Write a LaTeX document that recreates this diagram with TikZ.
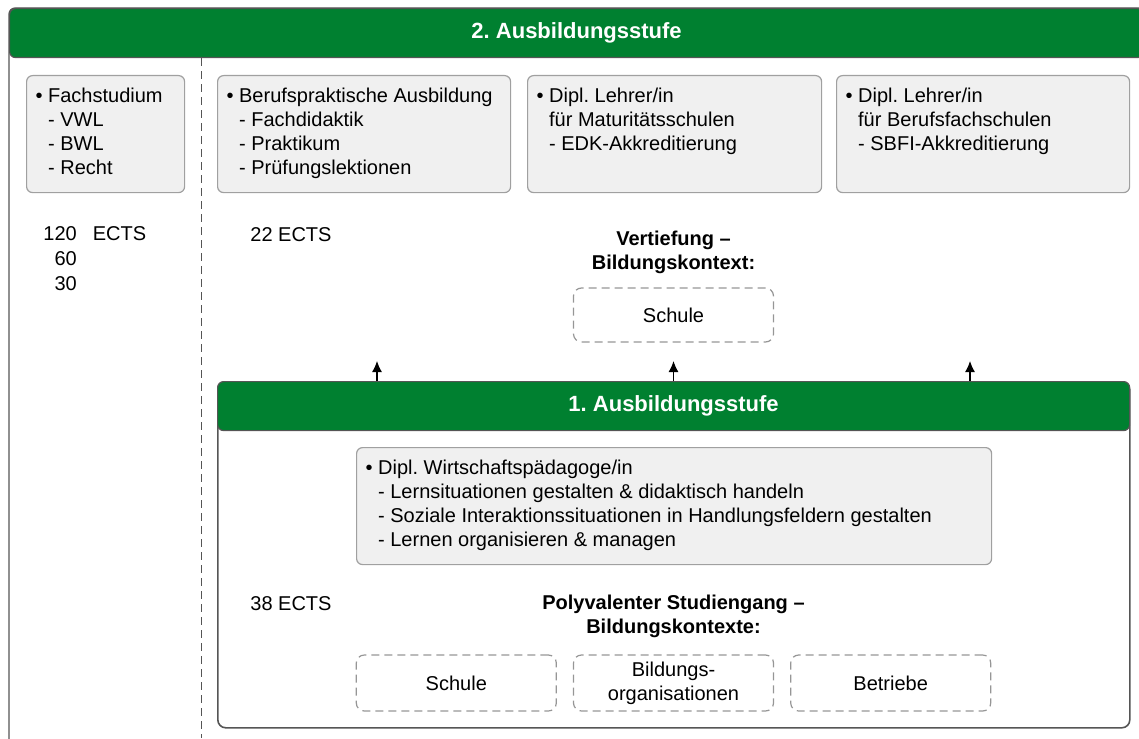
\documentclass[tikz,border=0pt]{standalone}
\usepackage{fontspec}
\setmainfont{Liberation Sans}
\usetikzlibrary{positioning,arrows.meta}
\frenchspacing

\definecolor{stufengruen}{RGB}{0,128,48}
\definecolor{boxgrau}{RGB}{240,240,240}
\definecolor{boxrand}{RGB}{160,160,160}
\definecolor{rahmengrau}{RGB}{85,85,85}
\definecolor{strichgrau}{RGB}{150,150,150}

\newcommand{\einr}{\phantom{\textbullet\ }}
\newcommand{\inhalt}[2]{\parbox[t][46.3pt][t]{#1}{#2}}

\begin{document}
\begin{tikzpicture}[x=0.5pt, y=-0.5pt,
  every node/.style={font=\fontsize{10}{12}\selectfont},
  kopf/.style={draw=rahmengrau, fill=stufengruen, text=white, font=\fontsize{11}{13}\selectfont\bfseries, rounded corners=3pt, anchor=north west, minimum height=24.5pt, inner sep=0pt, line width=0.6pt},
  graubox/.style={draw=boxrand, fill=boxgrau, rounded corners=3pt, anchor=north west, inner xsep=4.5pt, inner ysep=6.1pt, align=left, line width=0.6pt},
  kontext/.style={draw=strichgrau, dash pattern=on 4pt off 2.5pt, rounded corners=4pt, minimum width=100pt, align=center, inner sep=0pt, line width=0.6pt},
  titel/.style={font=\fontsize{10}{12}\selectfont\bfseries, align=center},
  pfeil/.style={-{Latex[length=5.5pt,width=5pt]}, line width=0.6pt}]

  \useasboundingbox (0,0) rectangle (1139,738);
  \clip (0,0) rectangle (1139,738);

  % 2. Ausbildungsstufe
  \draw[rahmengrau, line width=0.6pt, rounded corners=3pt] (9,8) rectangle (1160,760);
  \node[kopf, minimum width=567pt] (stufe2) at (9,8) {2. Ausbildungsstufe};
  \coordinate (trenn) at (201.5,738);
  \draw[rahmengrau, dash pattern=on 4pt off 2.5pt, line width=0.6pt] (stufe2.south -| trenn) -- (trenn);

  \node[graubox] (fach)  at (26,75)  {\inhalt{70pt}{\textbullet\ Fachstudium\\\einr- VWL\\\einr- BWL\\\einr- Recht}};
  \node[graubox] (beruf) at (217,75) {\inhalt{137.5pt}{\textbullet\ Berufspraktische Ausbildung\\\einr- Fachdidaktik\\\einr- Praktikum\\\einr- Prüfungslektionen}};
  \node[graubox] (matur) at (527,75) {\inhalt{138pt}{\textbullet\ Dipl. Lehrer/in\\\einr für Maturitätsschulen\\\einr- EDK-Akkreditierung}};
  \node[graubox] (bfs)   at (836,75) {\inhalt{137.5pt}{\textbullet\ Dipl. Lehrer/in\\\einr für Berufsfachschulen\\\einr- SBFI-Akkreditierung}};

  \node[anchor=north west, inner sep=0pt] (ectsfach) at (43,223) {\fontsize{10}{12.5}\selectfont\begin{tabular}{@{}r@{\hspace{8pt}}l@{}}120 & ECTS\\60 &\\30 &\end{tabular}};
  \node[anchor=west, inner sep=0pt] (ects22) at (250,235) {22 ECTS};

  \node[titel] (vertiefung) at (673.5,252) {Vertiefung --\\Bildungskontext:};
  \node[kontext, minimum height=27pt] (schule1) at (673.5,315) {Schule};

  % 1. Ausbildungsstufe
  \node[draw=rahmengrau, line width=0.8pt, rounded corners=4pt, anchor=north west, minimum width=456pt, minimum height=173pt, inner sep=0pt] (rahmen1) at (217,381) {};
  \node[kopf, minimum width=456pt] (stufe1) at (217,381) {1. Ausbildungsstufe};

  \node[graubox] (dipl) at (356,447) {\inhalt{308.5pt}{\textbullet\ Dipl. Wirtschaftspädagoge/in\\\einr- Lernsituationen gestalten \& didaktisch handeln\\\einr- Soziale Interaktionssituationen in Handlungsfeldern gestalten\\\einr- Lernen organisieren \& managen}};

  \node[anchor=west, inner sep=0pt] (ects38) at (250,604) {38 ECTS};
  \node[titel] (polyvalent) at (673.5,616) {Polyvalenter Studiengang --\\Bildungskontexte:};

  \node[kontext, minimum height=28pt] (bildorg) at (673.5,683) {Bildungs-\\organisationen};
  \node[kontext, minimum height=28pt, left=8pt of bildorg]  (schule2)  {Schule};
  \node[kontext, minimum height=28pt, right=8pt of bildorg] (betriebe) {Betriebe};

  \coordinate (pfeilA) at (377,361);
  \coordinate (pfeilB) at (673.5,361);
  \coordinate (pfeilC) at (970,361);
  \draw[pfeil] (stufe1.north -| pfeilA) -- (pfeilA);
  \draw[pfeil] (stufe1.north -| pfeilB) -- (pfeilB);
  \draw[pfeil] (stufe1.north -| pfeilC) -- (pfeilC);

\end{tikzpicture}
\end{document}
